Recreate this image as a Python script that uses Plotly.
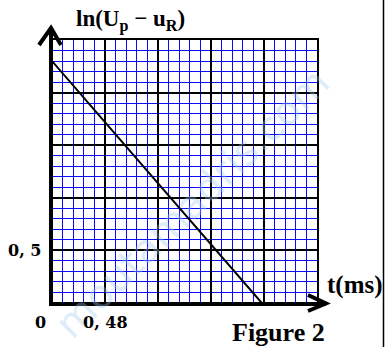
import plotly.graph_objects as go

# Measured straight line of ln(Up - uR) versus time
t_ms = [0.0, 1.9]
ln_vals = [2.3, 0.0]

# Axis scales and labelled graduations
x_max, x_major, x_minor = 2.4, 0.48, 0.096
y_max, y_major, y_minor = 2.5, 0.5, 0.1
x_label_val, x_label_txt = 0.48, "0, 48"
y_label_val, y_label_txt = 0.5, "0, 5"

W, H = 386, 347
ML, MR, MT, MB = 52, 69, 40, 44
PW, PH = W - ML - MR, H - MT - MB


def px(t):
    """data x -> paper x"""
    return t / x_max


def py(v):
    """data y -> paper y"""
    return v / y_max


def dx(pixels):
    return pixels / PW


def dy(pixels):
    return pixels / PH


fig = go.Figure()
fig.add_trace(go.Scatter(
    x=t_ms, y=ln_vals, mode="lines",
    line=dict(color="black", width=2),
    hoverinfo="skip", showlegend=False,
))

serif = "Liberation Serif"
math = "DejaVu Serif"

axis_common = dict(
    showticklabels=False, ticks="", zeroline=False,
    showline=True, mirror=True, linecolor="black", linewidth=1.5,
    showgrid=True, gridcolor="black", gridwidth=1.5,
)

fig.update_layout(
    width=W, height=H,
    margin=dict(l=ML, r=MR, t=MT, b=MB),
    paper_bgcolor="white", plot_bgcolor="white",
    xaxis=dict(range=[0, x_max], tick0=0, dtick=x_major,
               minor=dict(dtick=x_minor, showgrid=True, gridcolor="#0a0aff", gridwidth=1),
               **axis_common),
    yaxis=dict(range=[0, y_max], tick0=0, dtick=y_major,
               minor=dict(dtick=y_minor, showgrid=True, gridcolor="#0a0aff", gridwidth=1),
               **axis_common),
)

# Thick axes with open arrowheads
axis_line = dict(color="black", width=4)
shapes = [
    dict(type="line", xref="paper", yref="paper",
         x0=dx(-1), x1=dx(-1), y0=dy(-2), y1=py(y_max) + dy(11), line=axis_line),
    dict(type="line", xref="paper", yref="paper",
         x0=dx(-3), x1=px(x_max) + dx(9), y0=dy(-1), y1=dy(-1), line=axis_line),
    dict(type="path", xref="paper", yref="paper",
         path=f"M {dx(-13)},{py(y_max) - dy(5)} L {dx(-1)},{py(y_max) + dy(12)} L {dx(9)},{py(y_max) - dy(5)}",
         line=axis_line),
    dict(type="path", xref="paper", yref="paper",
         path=f"M {px(x_max) - dx(9)},{dy(8)} L {px(x_max) + dx(9)},{dy(-0.5)} L {px(x_max) - dx(9)},{dy(-8)}",
         line=axis_line),
    # outer frame on the right
    dict(type="line", xref="paper", yref="paper",
         x0=dx(W - ML - 2.5), x1=dx(W - ML - 2.5), y0=dy(-MB), y1=dy(PH + MT),
         line=dict(color="black", width=1.5)),
]
fig.update_layout(shapes=shapes)

ann = []
# faint site watermark across the graph (drawn first, texts on top)
ann.append(dict(text="moutamadris.com", xref="paper", yref="paper",
                x=dx(140), y=dy(100), xanchor="center", yanchor="middle", textangle=-44.5,
                showarrow=False, font=dict(family="DejaVu Sans", size=40, color="rgba(160,200,240,0.35)")))
ann.append(dict(text="<b>ln(U<sub>p</sub> − u<sub>R</sub>)</b>", xref="paper", yref="paper",
                x=dx(78), y=py(y_max) + dy(3), xanchor="center", yanchor="bottom",
                showarrow=False, font=dict(family=serif, size=23, color="black")))
ann.append(dict(text="<b>t(ms)</b>", xref="paper", yref="paper",
                x=px(x_max) + dx(8), y=dy(18), xanchor="left", yanchor="middle",
                showarrow=False, font=dict(family=serif, size=25, color="black")))
ann.append(dict(text="<b>Figure 2</b>", xref="paper", yref="paper",
                x=px(x_max) - dx(39), y=dy(-29), xanchor="center", yanchor="middle",
                showarrow=False, font=dict(family=serif, size=26, color="black")))
ann.append(dict(text=f"<b>{y_label_txt}</b>", xref="paper", yref="paper",
                x=dx(-9), y=py(y_label_val), xanchor="right", yanchor="middle",
                showarrow=False, font=dict(family=math, size=16, color="black")))
ann.append(dict(text=f"<b>{x_label_txt}</b>", xref="paper", yref="paper",
                x=px(x_label_val), y=dy(-19), xanchor="center", yanchor="middle",
                showarrow=False, font=dict(family=math, size=16, color="black")))
ann.append(dict(text="<b>0</b>", xref="paper", yref="paper",
                x=dx(-12), y=dy(-19), xanchor="center", yanchor="middle",
                showarrow=False, font=dict(family=math, size=16, color="black")))
fig.update_layout(annotations=ann)

fig.write_html("out.html")
